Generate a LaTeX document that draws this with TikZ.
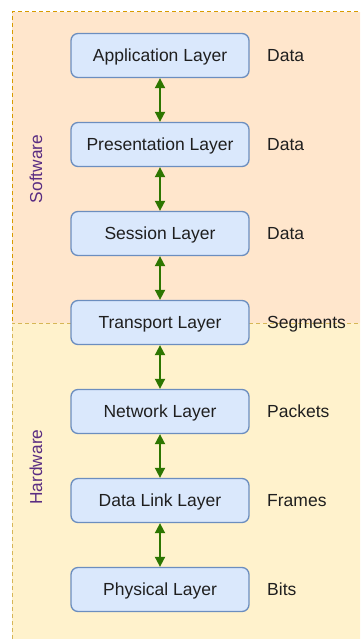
\documentclass[tikz,border=0pt]{standalone}
\usepackage{fontspec}
\setmainfont{Liberation Sans}
\usetikzlibrary{arrows.meta}
\definecolor{swfill}{HTML}{FFE6CC}
\definecolor{swline}{HTML}{D79B00}
\definecolor{hwfill}{HTML}{FFF2CC}
\definecolor{hwline}{HTML}{D6B656}
\definecolor{layerfill}{HTML}{DAE8FC}
\definecolor{layerline}{HTML}{6C8EBF}
\definecolor{linkgreen}{HTML}{2D7600}
\definecolor{zonetext}{HTML}{5A2D82}
\definecolor{bodytext}{HTML}{1F1F1F}
\tikzset{
  zone/.style={line width=1pt, dash pattern=on 4pt off 3pt},
  label font/.style={font=\fontsize{17.5}{20}\selectfont, text height=12.5pt, text depth=0pt},
  layer/.style={draw=layerline, fill=layerfill, line width=1.3pt, rounded corners=7pt,
    minimum width=178pt, minimum height=44pt, inner sep=0pt,
    label font, text=bodytext},
  unit/.style={anchor=west, label font, text=bodytext, inner sep=0pt},
  zonelabel/.style={rotate=90, font=\fontsize{17.3}{20}\selectfont, text=zonetext, inner sep=0pt},
  link/.style={draw=linkgreen, line width=1.8pt,
    {Triangle[length=10pt,width=10pt]}-{Triangle[length=10pt,width=10pt]}}
}
\begin{document}
\begin{tikzpicture}[x=1pt, y=-1pt]
  \useasboundingbox (0,0) rectangle (360,639);
  \clip (0,0) rectangle (360,639);
  % software and hardware zones
  \fill[swfill] (12,12) rectangle (372,323);
  \fill[hwfill] (12,323) rectangle (372,652);
  \draw[zone, swline] (372,12) -- (12,12) -- (12,323);
  \draw[zone, hwline] (372,323) -- (12,323) -- (12,652);
  \node[zonelabel] (sw) at (36,169) {Software};
  \node[zonelabel] (hw) at (36,467) {Hardware};
  % OSI layers
  \node[layer] (app)  at (160,55.5)  {Application Layer};
  \node[layer] (pres) at (160,144.5) {Presentation Layer};
  \node[layer] (sess) at (160,233.5) {Session Layer};
  \node[layer] (tran) at (160,322.5) {Transport Layer};
  \node[layer] (net)  at (160,411.5) {Network Layer};
  \node[layer] (dl)   at (160,500.5) {Data Link Layer};
  \node[layer] (phy)  at (160,589.5) {Physical Layer};
  % data units
  \node[unit] (u1) at (267,55.5)  {Data};
  \node[unit] (u2) at (267,144.5) {Data};
  \node[unit] (u3) at (267,233.5) {Data};
  \node[unit] (u4) at (267,322.5) {Segments};
  \node[unit] (u5) at (267,411.5) {Packets};
  \node[unit] (u6) at (267,500.5) {Frames};
  \node[unit] (u7) at (267,589.5) {Bits};
  % links between layers
  \draw[link] (app.south)  -- (pres.north);
  \draw[link] (pres.south) -- (sess.north);
  \draw[link] (sess.south) -- (tran.north);
  \draw[link] (tran.south) -- (net.north);
  \draw[link] (net.south)  -- (dl.north);
  \draw[link] (dl.south)   -- (phy.north);
\end{tikzpicture}
\end{document}
